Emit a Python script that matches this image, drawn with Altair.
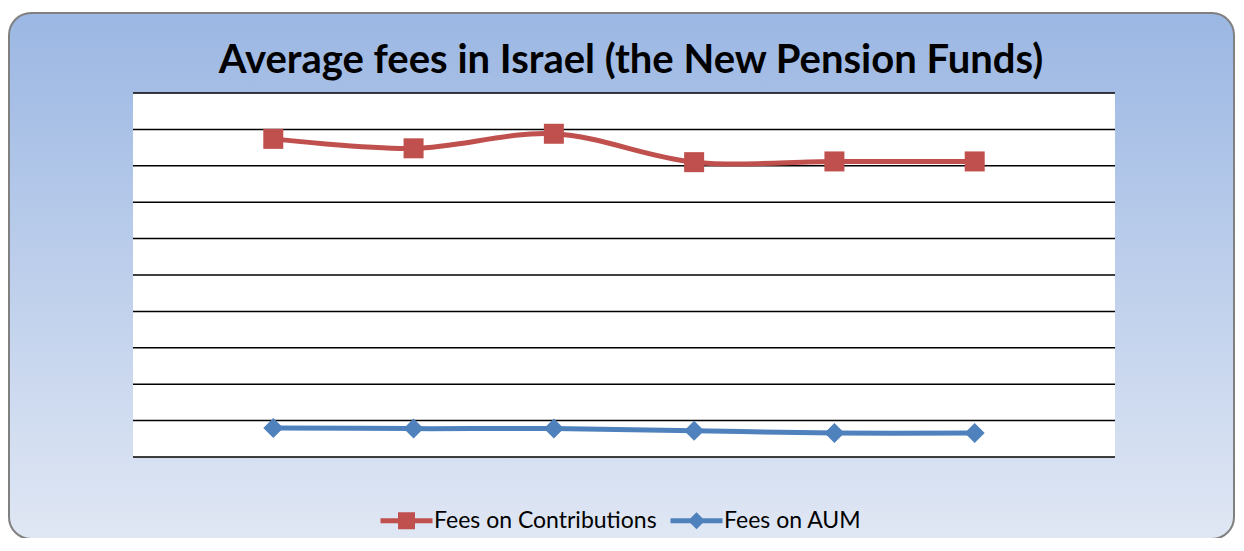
import altair as alt
import pandas as pd

# ---- data ----
title_text = "Average fees in Israel (the New Pension Funds)"
periods = [1, 2, 3, 4, 5, 6]
fees_contributions = [4.37, 4.24, 4.44, 4.05, 4.06, 4.06]
fees_aum = [0.40, 0.39, 0.39, 0.36, 0.33, 0.33]
series_names = ["Fees on Contributions", "Fees on AUM"]
grid_values = [0, 0.5, 1.0, 1.5, 2.0, 2.5, 3.0, 3.5, 4.0, 4.5, 5.0]

RED = "#C0504D"
BLUE = "#4F81BD"
W, H = 982, 364

df = pd.DataFrame({
    "period": periods * 2,
    "value": fees_contributions + fees_aum,
    "series": [series_names[0]] * len(periods) + [series_names[1]] * len(periods),
})
grid_df = pd.DataFrame({"value": grid_values})
legend_df = pd.DataFrame({"series": series_names})

x_enc = alt.X("period:O", scale=alt.Scale(type="point", padding=1), axis=None)
y_enc = alt.Y("value:Q", scale=alt.Scale(domain=[0, 5], nice=False, zero=True), axis=None)

# background panel (gradient, rounded, grey border)
bg = alt.Chart(alt.Data(values=[{}])).mark_rect(
    fill=alt.LinearGradient(
        gradient="linear",
        stops=[alt.GradientStop(color="#9bb7e3", offset=0),
               alt.GradientStop(color="#e0e7f4", offset=1)],
        x1=0, x2=0, y1=0, y2=1),
    stroke="#808080", strokeWidth=2, cornerRadius=22,
).encode(x=alt.value(-124), x2=alt.value(1101), y=alt.value(-80), y2=alt.value(446))

plot_bg = alt.Chart(alt.Data(values=[{}])).mark_rect(fill="white").encode(
    x=alt.value(0), x2=alt.value(W), y=alt.value(0), y2=alt.value(H))

title = alt.Chart(alt.Data(values=[{}])).mark_text(
    font="Lato", fontSize=40, fontWeight="bold", color="black",
    align="center", baseline="alphabetic",
).encode(x=alt.value(498), y=alt.value(-20), text=alt.value(title_text))

grid = alt.Chart(grid_df).mark_rule(color="black", strokeWidth=1.5).encode(y=y_enc)

layers = [bg, plot_bg, title, grid]
styles = [(series_names[0], RED, "square"), (series_names[1], BLUE, "diamond")]
for name, col, shp in styles:
    base = alt.Chart(df).transform_filter(alt.datum.series == name)
    layers.append(base.mark_line(color=col, strokeWidth=5, interpolate="cardinal").encode(x=x_enc, y=y_enc))
    layers.append(base.mark_point(shape=shp, filled=True, color=col, size=400, opacity=1).encode(x=x_enc, y=y_enc))

# legend symbols: line with marker in the middle
path_square = "M-3.06,-0.29H-1V-1H1V-0.29H3.06V0.29H1V1H-1V0.29H-3.06Z"
path_diamond = "M-3.06,-0.29H-0.71L0,-1L0.71,-0.29H3.06V0.29H0.71L0,1L-0.71,0.29H-3.06Z"

leg = alt.Legend(orient="none", legendX=262, legendY=416, direction="horizontal", title=None,
                 symbolSize=289, labelOffset=16, columnPadding=13, labelFont="Lato",
                 labelFontSize=23, labelColor="black", labelLimit=0, symbolStrokeWidth=0,
                 padding=0, symbolOpacity=1)

legend_layer = alt.Chart(legend_df).mark_point(filled=True, opacity=1).encode(
    x=alt.value(-3000), y=alt.value(-3000),
    color=alt.Color("series:N", scale=alt.Scale(domain=series_names, range=[RED, BLUE]), legend=leg),
    shape=alt.Shape("series:N", scale=alt.Scale(domain=series_names, range=[path_square, path_diamond]), legend=leg),
)
layers.append(legend_layer)

chart = alt.layer(*layers).properties(
    width=W, height=H,
    padding={"left": 125, "top": 85, "right": 121, "bottom": 81},
    autosize=alt.AutoSizeParams(type="none"),
).configure_view(stroke=None, fill="white")

chart.save("out.html", embed_options={"renderer": "svg", "actions": False})
